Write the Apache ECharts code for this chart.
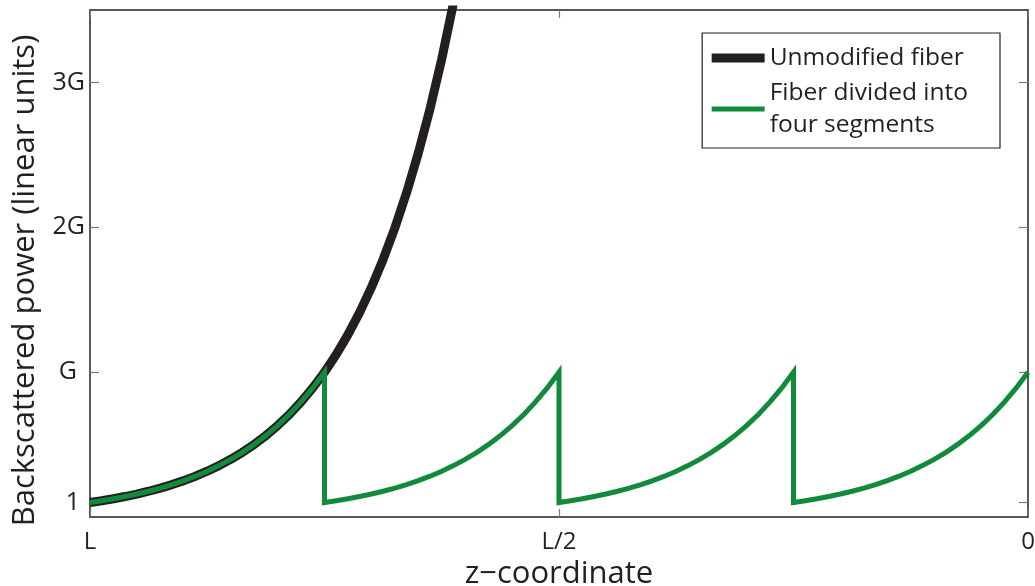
<!DOCTYPE html>
<html>
<head>
<meta charset="utf-8">
<script src="https://cdn.jsdelivr.net/npm/echarts@6/dist/echarts.min.js"></script>
<style>html,body{margin:0;padding:0;background:#fff}#c{width:1035px;height:586px}</style>
</head>
<body>
<div id="c"></div>
<script>
// x: position along fiber (0 = L at left, 1 = 0 at right); y: power in linear units (G = 10)
var blackZ = [0,0.0125,0.025,0.0375,0.05,0.0625,0.075,0.0875,0.1,0.1125,0.125,0.1375,0.15,0.1625,0.175,0.1875,0.2,0.2125,0.225,0.2375,0.25,0.2625,0.275,0.2875,0.3,0.3125,0.325,0.3375,0.35,0.3625,0.375,0.3875,0.4];
var blackP = [1.000,1.122,1.259,1.413,1.585,1.778,1.995,2.239,2.512,2.818,3.162,3.548,3.981,4.467,5.012,5.623,6.310,7.079,7.943,8.913,10.00,11.22,12.59,14.13,15.85,17.78,19.95,22.39,25.12,28.18,31.62,35.48,39.81];

var greenZ = [
  0,0.0125,0.025,0.0375,0.05,0.0625,0.075,0.0875,0.1,0.1125,0.125,0.1375,0.15,0.1625,0.175,0.1875,0.2,0.2125,0.225,0.2375,0.25,
  0.25,0.2625,0.275,0.2875,0.3,0.3125,0.325,0.3375,0.35,0.3625,0.375,0.3875,0.4,0.4125,0.425,0.4375,0.45,0.4625,0.475,0.4875,0.5,
  0.5,0.5125,0.525,0.5375,0.55,0.5625,0.575,0.5875,0.6,0.6125,0.625,0.6375,0.65,0.6625,0.675,0.6875,0.7,0.7125,0.725,0.7375,0.75,
  0.75,0.7625,0.775,0.7875,0.8,0.8125,0.825,0.8375,0.85,0.8625,0.875,0.8875,0.9,0.9125,0.925,0.9375,0.95,0.9625,0.975,0.9875,1.0
];
var greenP = [
  1.000,1.122,1.259,1.413,1.585,1.778,1.995,2.239,2.512,2.818,3.162,3.548,3.981,4.467,5.012,5.623,6.310,7.079,7.943,8.913,10.00,
  1.000,1.122,1.259,1.413,1.585,1.778,1.995,2.239,2.512,2.818,3.162,3.548,3.981,4.467,5.012,5.623,6.310,7.079,7.943,8.913,10.00,
  1.000,1.122,1.259,1.413,1.585,1.778,1.995,2.239,2.512,2.818,3.162,3.548,3.981,4.467,5.012,5.623,6.310,7.079,7.943,8.913,10.00,
  1.000,1.122,1.259,1.413,1.585,1.778,1.995,2.239,2.512,2.818,3.162,3.548,3.981,4.467,5.012,5.623,6.310,7.079,7.943,8.913,10.00
];

var yTickValues = [1, 10, 20, 30];
var yTickLabels = ['1', 'G', '2G', '3G'];
var xTickValues = [0, 0.5, 1];
var xTickLabels = ['L', 'L/2', '0'];
var seriesNames = ['Unmodified fiber', 'Fiber divided into\nfour segments'];

function pairs(xs, ys) { return xs.map(function (x, i) { return [x, ys[i]]; }); }

var FONT = 'Open Sans';
var INK = '#231f20';
var GREEN = '#128a3c';
var TICK = '#7a7a7a';
var yLabelStyle = ['p5', 'p8', 'p0', 'p0'];

var chart = echarts.init(document.getElementById('c'));
chart.setOption({
  animation: false,
  backgroundColor: '#fff',
  grid: { left: 90, right: 7, top: 10, bottom: 69, containLabel: false, outerBoundsMode: 'none' },
  legend: {
    orient: 'vertical',
    right: 35,
    top: 33,
    padding: [9, 32, 7, 5],
    itemGap: 3,
    itemWidth: 53,
    itemHeight: 14,
    borderColor: INK,
    borderWidth: 1.2,
    backgroundColor: '#fff',
    textStyle: { fontFamily: FONT, fontSize: 24.5, color: INK, lineHeight: 32 },
    data: [
      { name: seriesNames[0], lineStyle: { width: 9, color: INK }, itemStyle: { opacity: 0 } },
      { name: seriesNames[1], lineStyle: { width: 5, color: GREEN }, itemStyle: { opacity: 0 } }
    ]
  },
  xAxis: [{
    type: 'value', min: 0, max: 1, interval: 0.5, position: 'bottom',
    name: 'z\u2212coordinate', nameLocation: 'middle', nameGap: 41,
    nameTextStyle: { fontFamily: FONT, fontSize: 31, color: INK },
    axisLine: { show: true, onZero: false, lineStyle: { color: INK, width: 1.5 } },
    axisTick: { show: true, inside: true, length: 8, lineStyle: { color: TICK, width: 1.2 } },
    axisLabel: { margin: 13, fontFamily: FONT, fontSize: 24, color: INK,
      formatter: function (v) { var i = xTickValues.indexOf(v); return i >= 0 ? xTickLabels[i] : ''; } },
    splitLine: { show: false }
  }, {
    type: 'value', min: 0, max: 1, interval: 0.5, position: 'top',
    axisLine: { show: true, onZero: false, lineStyle: { color: INK, width: 1.5 } },
    axisTick: { show: true, inside: true, length: 8, lineStyle: { color: TICK, width: 1.2 } },
    axisLabel: { show: false }, splitLine: { show: false }
  }],
  yAxis: [{
    type: 'value', min: 0, max: 35, position: 'left',
    name: 'Backscattered power (linear units)', nameLocation: 'middle', nameGap: 49,
    nameTextStyle: { fontFamily: FONT, fontSize: 31, color: INK, padding: [0, 34, 0, 0] },
    axisLine: { show: true, onZero: false, lineStyle: { color: INK, width: 1.5 } },
    axisTick: { show: true, inside: true, length: 9, customValues: yTickValues, lineStyle: { color: TICK, width: 1.2 } },
    axisLabel: { margin: 5, fontFamily: FONT, fontSize: 25, color: INK, customValues: yTickValues,
      formatter: function (v) {
        var i = yTickValues.indexOf(v);
        return i >= 0 ? '{' + yLabelStyle[i] + '|' + yTickLabels[i] + '}' : '';
      },
      rich: {
        p0: { fontFamily: FONT, fontSize: 25, color: INK },
        p5: { fontFamily: FONT, fontSize: 25, color: INK, padding: [0, 5, 0, 0] },
        p8: { fontFamily: FONT, fontSize: 25, color: INK, padding: [0, 8, 0, 0] }
      }
    },
    splitLine: { show: false }
  }, {
    type: 'value', min: 0, max: 35, position: 'right',
    axisLine: { show: true, onZero: false, lineStyle: { color: INK, width: 1.5 } },
    axisTick: { show: true, inside: true, length: 9, customValues: yTickValues, lineStyle: { color: TICK, width: 1.2 } },
    axisLabel: { show: false }, splitLine: { show: false }
  }],
  series: [{
    name: seriesNames[0], type: 'line', xAxisIndex: 0, yAxisIndex: 0,
    data: pairs(blackZ, blackP), showSymbol: false, symbol: 'none', smooth: false,
    clip: true,
    lineStyle: { color: INK, width: 9 }, itemStyle: { color: INK }, z: 2
  }, {
    name: seriesNames[1], type: 'line', xAxisIndex: 0, yAxisIndex: 0,
    data: pairs(greenZ, greenP), showSymbol: false, symbol: 'none', smooth: false,
    clip: true,
    lineStyle: { color: GREEN, width: 5, join: 'miter' }, itemStyle: { color: GREEN }, z: 3
  }]
});
</script>
</body>
</html>
